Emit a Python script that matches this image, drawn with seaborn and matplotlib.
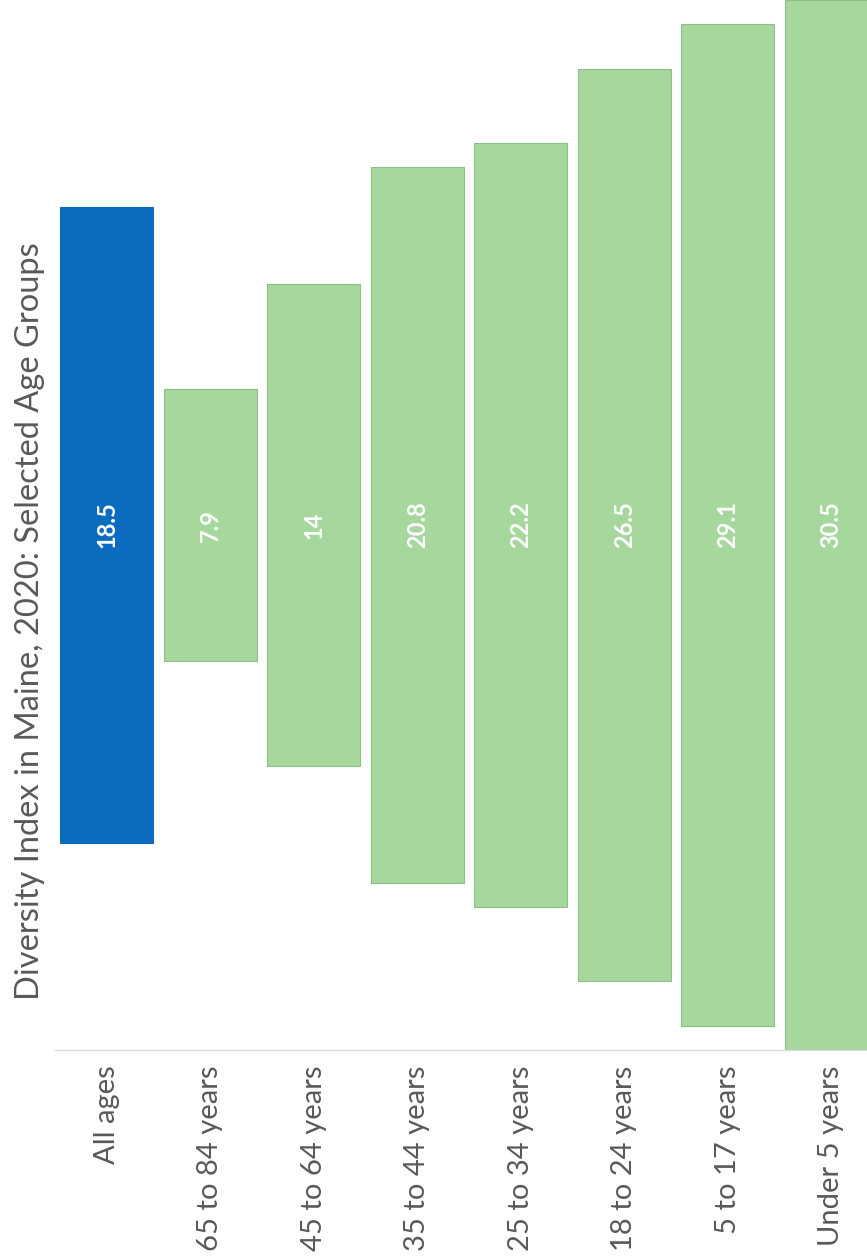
import matplotlib
matplotlib.use("Agg")
import matplotlib.pyplot as plt
import seaborn as sns
import pandas as pd

categories = ["All ages", "65 to 84 years", "45 to 64 years", "35 to 44 years",
              "25 to 34 years", "18 to 24 years", "5 to 17 years", "Under 5 years"]
values = [18.5, 7.9, 14, 20.8, 22.2, 26.5, 29.1, 30.5]
value_labels = ["18.5", "7.9", "14", "20.8", "22.2", "26.5", "29.1", "30.5"]
colors = ["#0b6cbf"] + ["#a6d89e"] * 7
title = "Diversity Index in Maine, 2020: Selected Age Groups"

sns.set_theme(style="white")
plt.rcParams["font.family"] = ["Lato", "DejaVu Sans"]

W, H = 867, 1257
fig = plt.figure(figsize=(W / 100, H / 100), dpi=100)
ax = fig.add_axes([55 / W, (H - 1050) / H, 828 / W, 1050 / H])

df = pd.DataFrame({"cat": categories, "val": values})
sns.barplot(data=df, x="cat", y="val", hue="cat", palette=colors, legend=False,
            width=0.9, ax=ax, saturation=1, edgecolor="#8fbf88", linewidth=0.8)

vmax = max(values)
center = vmax / 2
for p, v, c, lab in zip(ax.patches, values, colors, value_labels):
    p.set_y(center - v / 2)
    p.set_height(v)
    if c != colors[1]:
        p.set_edgecolor(c)
    ax.text(p.get_x() + p.get_width() / 2, center, lab, rotation=90,
            ha="center", va="center", color="white", fontweight="bold", fontsize=17)

ax.set_ylim(0, vmax)
ax.set_xlim(-0.5, len(categories) - 0.5)
ax.set_xlabel("")
ax.set_ylabel("")
ax.set_yticks([])
for s in ["top", "right", "left"]:
    ax.spines[s].set_visible(False)
ax.spines["bottom"].set_color("#d9d9d9")
ax.spines["bottom"].set_linewidth(1)
ax.tick_params(axis="x", length=0, pad=11, labelsize=21, labelcolor="#595959")
for t in ax.get_xticklabels():
    t.set_rotation(90)
    t.set_ha("center")
    t.set_va("top")

fig.text(30 / W, (H - 1000) / H, title, rotation=90, ha="center", va="bottom",
         fontsize=23.5, color="#595959")

fig.savefig("out.png", dpi=100, facecolor="white")
